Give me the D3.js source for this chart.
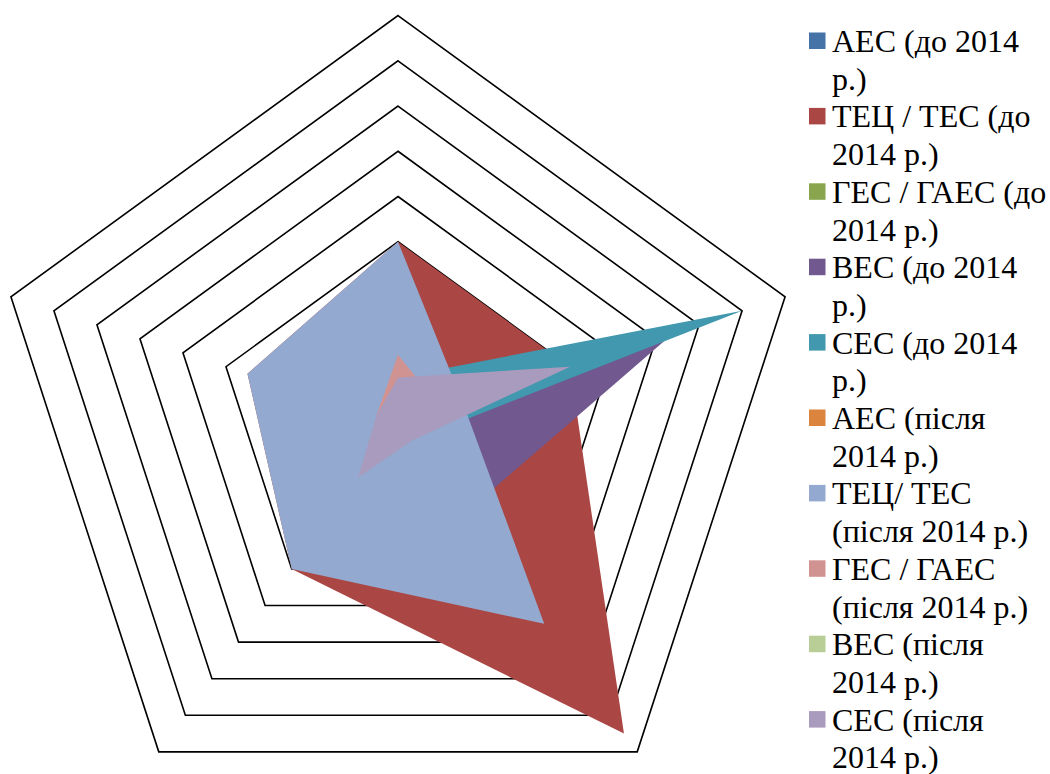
<!DOCTYPE html>
<html>
<head>
<meta charset="utf-8">
<script src="https://cdn.jsdelivr.net/npm/d3@7"></script>
<style>
  html, body { margin: 0; padding: 0; background: #fff; }
  svg { display: block; }
  .legend text { font-family: "Liberation Serif", "Times New Roman", Times, serif; font-size: 32px; fill: #000; }
</style>
</head>
<body>
<svg id="chart" width="1050" height="774"></svg>
<script>
// Five radar axes (unlabelled on the chart)
const categories = ["1", "2", "3", "4", "5"];

// Legend labels (line breaks as laid out in the legend)
const seriesNames = [
  "АЕС (до 2014\nр.)",
  "ТЕЦ / ТЕС (до\n2014 р.)",
  "ГЕС / ГАЕС (до\n2014 р.)",
  "ВЕС (до 2014\nр.)",
  "СЕС (до 2014\nр.)",
  "АЕС (після\n2014 р.)",
  "ТЕЦ/ ТЕС\n(після 2014 р.)",
  "ГЕС / ГАЕС\n(після 2014 р.)",
  "ВЕС (після\n2014 р.)",
  "СЕС (після\n2014 р.)"
];

const seriesColors = [
  "#4572A7", "#AA4643", "#89A54E", "#71588F", "#4198AF",
  "#DB843D", "#93A9CF", "#D19392", "#B9CD96", "#A99BBD"
];

// Values per axis, one array per series
const aesBefore    = [2, 2, 3, 2, 2];
const tesBefore    = [4, 4, 8.5, 4, 3.5];
const gesBefore    = [1, 1, 1, 1, 1];
const vesBefore    = [0.5, 6.4, 2.5, 0.5, 0.5];
const sesBefore    = [1, 8, 0.5, 0.5, 0.5];
const aesAfter     = [2, 1, 2.5, 2, 1.5];
const tesAfter     = [4, 1.5, 5.5, 4, 3.5];
const gesAfter     = [1.5, 1, 0.3, 0.5, 0.5];
const vesAfter     = [0.5, 2, 0.3, 0.5, 0.3];
const sesAfter     = [1, 4, 0.5, 1.5, 0.5];

// Gridline rings
const ringTicks = [1, 2, 3, 4, 5, 6, 7, 8, 9];

const seriesValues = [
  aesBefore, tesBefore, gesBefore, vesBefore, sesBefore,
  aesAfter, tesAfter, gesAfter, vesAfter, sesAfter
];

const series = seriesNames.map((name, i) => ({
  name, color: seriesColors[i], values: seriesValues[i]
}));

const svg = d3.select("#chart");
const cx = 398, cy = 422.6, outerR = 407;

const r = d3.scaleLinear().domain([0, d3.max(ringTicks)]).range([0, outerR]);
const angle = d3.scaleBand()
  .domain(categories)
  .range([0, 2 * Math.PI])
  .paddingInner(0).paddingOuter(0);

const radial = d3.lineRadial()
  .angle((d, i) => angle(categories[i]))
  .radius(d => r(d))
  .curve(d3.curveLinearClosed);

const plot = svg.append("g").attr("transform", `translate(${cx},${cy})`);

// Pentagonal gridlines
plot.append("g")
  .selectAll("path")
  .data(ringTicks)
  .join("path")
  .attr("d", t => radial(categories.map(() => t)))
  .attr("fill", "none")
  .attr("stroke", "#000")
  .attr("stroke-width", 1.6)
  .attr("stroke-linejoin", "miter");

// Filled series areas, drawn in series order
plot.append("g")
  .selectAll("path")
  .data(series)
  .join("path")
  .attr("d", s => radial(s.values))
  .attr("fill", s => s.color)
  .attr("stroke", "none");

// Legend
const legendX = 809, firstBaseline = 52, lineStep = 37.7;
const legend = svg.append("g").attr("class", "legend");

let line = 0;
series.forEach(s => {
  const lines = s.name.split("\n");
  const base = firstBaseline + line * lineStep;
  legend.append("rect")
    .attr("x", legendX)
    .attr("y", base - 19.5)
    .attr("width", 16.5)
    .attr("height", 16.5)
    .attr("fill", s.color);
  lines.forEach((txt, j) => {
    legend.append("text")
      .attr("x", 832)
      .attr("y", firstBaseline + (line + j) * lineStep)
      .text(txt);
  });
  line += lines.length;
});
</script>
</body>
</html>
